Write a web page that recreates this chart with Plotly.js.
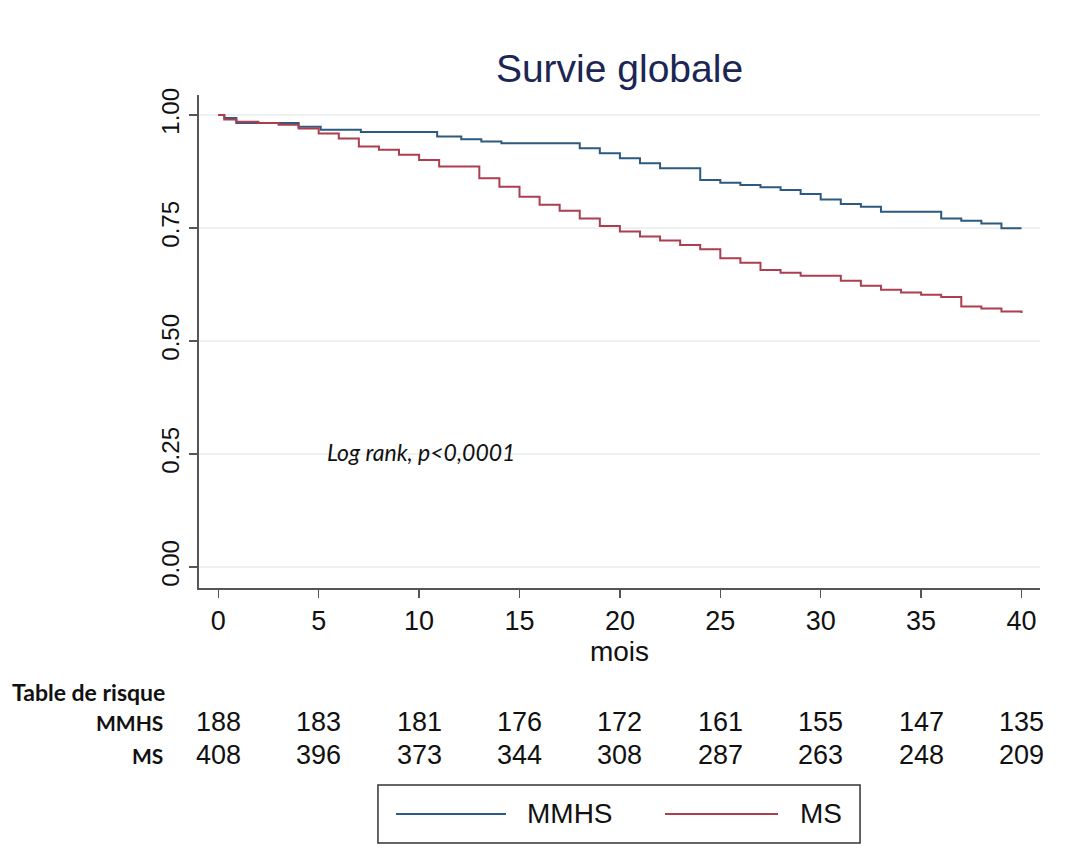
<!DOCTYPE html>
<html>
<head>
<meta charset="utf-8">
<script src="https://cdn.plot.ly/plotly-3.0.1.min.js"></script>
<style>html,body{margin:0;padding:0;background:#fff;}#chart{width:1066px;height:868px;}</style>
</head>
<body>
<div id="chart"></div>
<script>
// Kaplan-Meier step data (months, survival)
const mmhsTime = [0, 0.3, 0.9, 4.0, 5.1, 7.1, 10.9, 12.1, 13.1, 14.1, 18.0, 19.0, 20.0, 21.0, 22.0, 24.0, 25.0, 26.0, 27.0, 28.0, 29.0, 30.0, 31.0, 32.0, 33.0, 36.0, 37.0, 38.0, 39.0, 40.0];
const mmhsSurv = [1.0, 0.993, 0.982, 0.974, 0.967, 0.962, 0.952, 0.946, 0.941, 0.937, 0.926, 0.915, 0.904, 0.893, 0.882, 0.856, 0.850, 0.845, 0.840, 0.834, 0.825, 0.813, 0.803, 0.797, 0.786, 0.771, 0.766, 0.760, 0.749, 0.749];
const msTime = [0, 0.3, 0.9, 2.0, 3.0, 4.0, 5.0, 6.0, 7.0, 8.0, 9.0, 10.0, 11.0, 13.0, 14.0, 15.0, 16.0, 17.0, 18.0, 19.0, 20.0, 21.0, 22.0, 23.0, 24.0, 25.0, 26.0, 27.0, 28.0, 29.0, 31.0, 32.0, 33.0, 34.0, 35.0, 36.0, 37.0, 38.0, 39.0, 40.0];
const msSurv = [1.0, 0.990, 0.985, 0.982, 0.978, 0.970, 0.959, 0.948, 0.930, 0.923, 0.912, 0.900, 0.886, 0.860, 0.841, 0.819, 0.801, 0.788, 0.771, 0.754, 0.742, 0.731, 0.722, 0.712, 0.703, 0.683, 0.673, 0.657, 0.651, 0.644, 0.633, 0.622, 0.613, 0.607, 0.602, 0.597, 0.576, 0.572, 0.565, 0.562];

// Risk table
const riskTimes = [0, 5, 10, 15, 20, 25, 30, 35, 40];
const riskMMHS = [188, 183, 181, 176, 172, 161, 155, 147, 135];
const riskMS = [408, 396, 373, 344, 308, 287, 263, 248, 209];
const groupNames = ['MMHS', 'MS'];
const yTicks = [0, 0.25, 0.5, 0.75, 1.0];

const blue = '#2c5a80';
const red = '#ac3e50';
const colors = [blue, red];
const axisFont = 'Liberation Sans, Arial, sans-serif';
const calFont = 'Lato, Open Sans, sans-serif';

const traces = [
  {x: mmhsTime, y: mmhsSurv, name: groupNames[0], type: 'scatter', mode: 'lines',
   line: {shape: 'hv', color: colors[0], width: 2}},
  {x: msTime, y: msSurv, name: groupNames[1], type: 'scatter', mode: 'lines',
   line: {shape: 'hv', color: colors[1], width: 2}}
];

const annotations = [];
function rowAnn(vals, shift) {
  vals.forEach((v, i) => {
    annotations.push({x: riskTimes[i], xref: 'x', y: 0, yref: 'paper', yshift: shift,
      text: String(v), showarrow: false, xanchor: 'center', yanchor: 'middle',
      font: {family: axisFont, size: 27, color: '#111'}});
  });
}
rowAnn(riskMMHS, -134);
rowAnn(riskMS, -167);
annotations.push({x: 0, xref: 'paper', xshift: -189, y: 0, yref: 'paper', yshift: -104,
  text: '<b>Table de risque</b>', showarrow: false, xanchor: 'left', yanchor: 'middle',
  font: {family: calFont, size: 23, color: '#111'}});
annotations.push({x: 0, xref: 'paper', xshift: -34, y: 0, yref: 'paper', yshift: -134,
  text: '<b>' + groupNames[0] + '</b>', showarrow: false, xanchor: 'right', yanchor: 'middle',
  font: {family: calFont, size: 21, color: '#111'}});
annotations.push({x: 0, xref: 'paper', xshift: -34, y: 0, yref: 'paper', yshift: -167,
  text: '<b>' + groupNames[1] + '</b>', showarrow: false, xanchor: 'right', yanchor: 'middle',
  font: {family: calFont, size: 21, color: '#111'}});
annotations.push({x: 5.3, xref: 'x', y: 0.254, yref: 'y',
  text: '<i>Log rank, p&lt;0,0001</i>', showarrow: false, xanchor: 'left', yanchor: 'middle',
  font: {family: calFont, size: 23, color: '#111'}});

// Custom legend box (paper coordinates)
const legY = -0.4584;
const shapes = [
  {type: 'rect', xref: 'paper', yref: 'paper', x0: 0.2128, x1: 0.7860, y0: -0.5172, y1: -0.3996,
   line: {color: '#333', width: 1.5}, fillcolor: 'rgba(0,0,0,0)'},
  {type: 'line', xref: 'paper', yref: 'paper', x0: 0.2343, x1: 0.3650, y0: legY, y1: legY,
   line: {color: colors[0], width: 2}},
  {type: 'line', xref: 'paper', yref: 'paper', x0: 0.5541, x1: 0.6885, y0: legY, y1: legY,
   line: {color: colors[1], width: 2}}
];
annotations.push({x: 0.3876, xref: 'paper', y: legY, yref: 'paper', text: groupNames[0],
  showarrow: false, xanchor: 'left', yanchor: 'middle', font: {family: axisFont, size: 28, color: '#111'}});
annotations.push({x: 0.7122, xref: 'paper', y: legY, yref: 'paper', text: groupNames[1],
  showarrow: false, xanchor: 'left', yanchor: 'middle', font: {family: axisFont, size: 28, color: '#111'}});

const layout = {
  width: 1066, height: 868,
  margin: {l: 199, r: 26, t: 95, b: 280},
  paper_bgcolor: '#ffffff', plot_bgcolor: '#ffffff',
  title: {text: 'Survie globale', x: 0.5, xref: 'paper', xanchor: 'center',
    y: 0.921, yref: 'container', yanchor: 'middle',
    font: {family: axisFont, size: 39, color: '#1b2654'}},
  xaxis: {range: [-0.96, 40.92], tickvals: riskTimes, ticks: 'outside', ticklen: 8, tickwidth: 1.5,
    tickcolor: '#555', showline: true, linecolor: '#555', linewidth: 2, showgrid: false, zeroline: false,
    tickfont: {family: axisFont, size: 27, color: '#111'},
    title: {text: 'mois', standoff: 6, font: {family: axisFont, size: 28, color: '#111'}}},
  yaxis: {range: [-0.0465, 1.044], tickvals: yTicks, tickformat: '.2f', tickangle: -90,
    ticks: 'outside', ticklen: 8, tickwidth: 1.5, tickcolor: '#555', showline: true, linecolor: '#555',
    linewidth: 2, showgrid: true, gridcolor: '#eef1f1', gridwidth: 1.5, zeroline: false,
    tickfont: {family: axisFont, size: 24, color: '#111'}},
  showlegend: false,
  shapes: shapes,
  annotations: annotations
};

Plotly.newPlot('chart', traces, layout, {displayModeBar: false, staticPlot: true});
</script>
</body>
</html>
